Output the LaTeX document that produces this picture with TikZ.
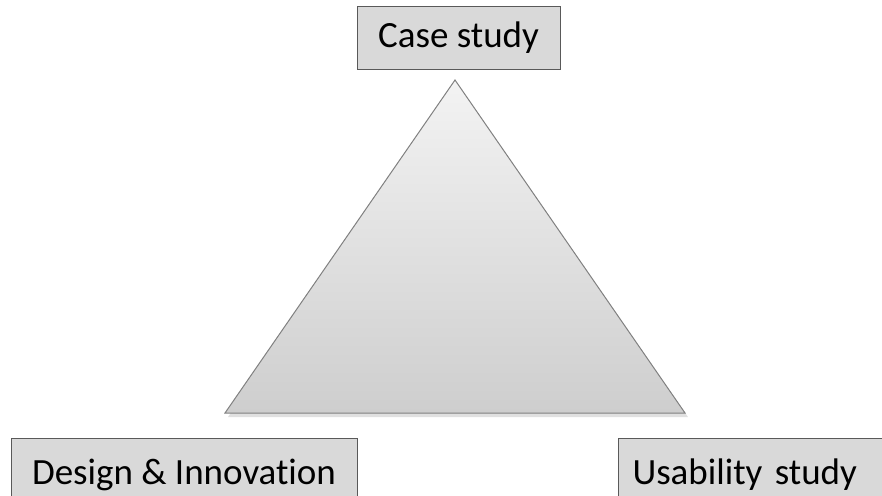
\documentclass[tikz,border=0pt]{standalone}
\usepackage{fontspec}
\setmainfont{Carlito}[Ligatures=NoCommon]
\usepackage{tikz}
\usetikzlibrary{shadows}
\definecolor{boxgray}{RGB}{217,217,217}
\definecolor{edgegray}{RGB}{89,89,89}
\definecolor{trigray}{RGB}{128,128,128}
\definecolor{toptri}{RGB}{243,243,243}
\definecolor{bottri}{RGB}{206,206,206}

\begin{document}
\begin{tikzpicture}[x=1pt,y=-1pt,
    labelbox/.style={draw=edgegray,fill=boxgray,line width=1pt,inner sep=0pt,font=\fontsize{37}{44}\selectfont}]
    \useasboundingbox (0,0) rectangle (882,495);
    \fill[black,opacity=0.12] (456,84) -- (228,417) -- (688,417) -- cycle;
    \shade[top color=toptri,bottom color=bottri,draw=trigray,line width=1pt] (455,80) -- (225,413) -- (685,413) -- cycle;
    \node[labelbox,minimum width=203pt,minimum height=62pt] (case) at (458.5,38) {Case study};
    \node[labelbox,minimum width=346pt,minimum height=74pt] (design) at (184,475) {Design \& Innovation};
    \node[labelbox,anchor=west,text width=320pt,align=left,inner xsep=14pt,minimum height=74pt] (usability) at (618,475) {Usability study};
  \end{tikzpicture}
\end{document}
